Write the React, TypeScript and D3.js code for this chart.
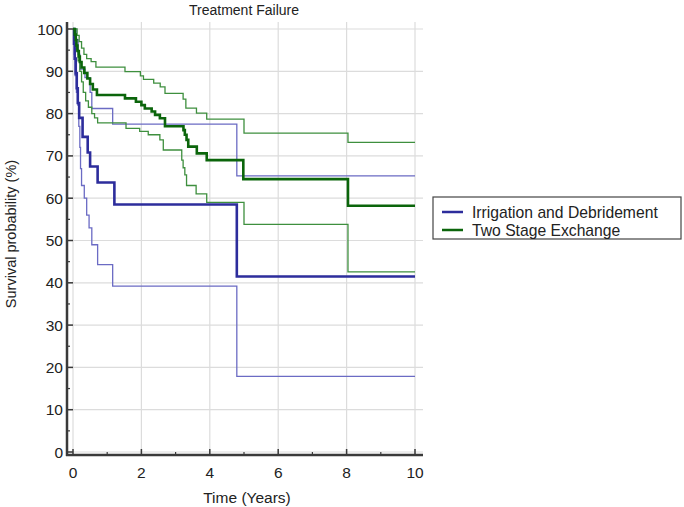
import React from "react";
import * as d3 from "d3";

const title = "Treatment Failure";
const xLabel = "Time (Years)";
const yLabel = "Survival probability (%)";
const seriesNames = ["Irrigation and Debridement", "Two Stage Exchange"];
const xTicks = [0, 2, 4, 6, 8, 10];
const xMinorTicks = [1, 3, 5, 7, 9];
const yTicks = [0, 10, 20, 30, 40, 50, 60, 70, 80, 90, 100];
const yMinorTicks = [5, 15, 25, 35, 45, 55, 65, 75, 85, 95];

// Irrigation and Debridement: [time, survival]
const idTime = [0, 0.03, 0.05, 0.08, 0.11, 0.14, 0.18, 0.28, 0.43, 0.5, 0.72, 1.21, 4.79];
const idSurv = [100, 96.5, 93, 89.5, 86, 82.5, 79, 74.5, 70.8, 67.5, 63.7, 58.5, 41.5];
const idUpperTime = [0, 0.1, 0.15, 0.2, 0.35, 0.5, 0.55, 1.16, 4.79];
const idUpper = [100, 97.5, 94, 90.5, 88.5, 85, 81.2, 77.5, 65.3];
const idLowerTime = [0, 0.04, 0.06, 0.1, 0.14, 0.17, 0.2, 0.22, 0.25, 0.33, 0.4, 0.47, 0.55, 0.72, 1.16, 4.79];
const idLower = [100, 94, 89, 85, 82, 77, 72, 67, 63, 60, 56, 53, 49, 44.3, 39.2, 17.9];

// Two Stage Exchange
const tsTime = [0, 0.05, 0.08, 0.1, 0.13, 0.17, 0.2, 0.25, 0.33, 0.42, 0.5, 0.58, 0.7, 1.52, 1.84, 2.0, 2.1, 2.3, 2.4, 2.54, 2.69, 3.23, 3.27, 3.32, 3.37, 3.62, 3.91, 4.98, 8.04];
const tsSurv = [100, 98.7, 97.4, 96.1, 94.8, 93.5, 92.2, 90.9, 89.6, 88.3, 87, 85.7, 84.4, 83.6, 82.8, 82.0, 81.2, 80.5, 79.7, 78.9, 77.0, 76.1, 75.0, 73.8, 72.2, 70.6, 69.0, 64.5, 58.2];
const tsUpperTime = [0, 0.12, 0.18, 0.25, 0.32, 0.4, 0.53, 0.67, 1.52, 1.97, 2.06, 2.36, 2.55, 2.69, 3.22, 3.3, 3.61, 3.91, 5.0, 8.04];
const tsUpper = [100, 98.5, 97, 95.5, 94, 93, 92.3, 91, 89.9, 88.9, 88.1, 87.2, 86.3, 84.8, 83.4, 81.3, 80.1, 78.7, 75.4, 73.2];
const tsLowerTime = [0, 0.05, 0.1, 0.15, 0.2, 0.25, 0.3, 0.37, 0.45, 0.55, 0.63, 0.72, 1.55, 1.95, 2.2, 2.54, 2.64, 3.18, 3.22, 3.27, 3.32, 3.6, 3.91, 5.0, 8.04];
const tsLower = [100, 97.5, 95, 92.5, 90, 87.5, 85, 83, 81.5, 80, 79, 77.8, 76.5, 75.8, 75.0, 73.8, 71.4, 69.0, 67.2, 65.5, 63.0, 61.0, 59.0, 53.8, 42.6];

const W = 684;
const H = 507;
const xMax = 10;

export default function App() {
  const x = d3.scaleLinear().domain([0, 10]).range([73, 415]);
  const y = d3.scaleLinear().domain([0, 100]).range([452, 29]);
  const line = d3
    .line<[number, number]>()
    .x((d) => x(d[0]))
    .y((d) => y(d[1]))
    .curve(d3.curveStepAfter);
  const mk = (t: number[], s: number[]): [number, number][] => {
    const pts = t.map((tt, i) => [tt, s[i]] as [number, number]);
    pts.push([xMax, s[s.length - 1]]);
    return pts;
  };
  const blue = "#2d2d9c";
  const blueThin = "#6b6bc4";
  const green = "#0b650b";
  const greenThin = "#3e8f3e";
  const font = "'Liberation Sans', Arial, sans-serif";
  const axisX = 67;
  const axisY = 455;
  const top = 22;
  const right = 423;
  const grid = "#dcdcdc";
  const axisColor = "#3a3a3a";

  return (
    <svg width={W} height={H} style={{ position: "absolute", left: 0, top: 0, background: "#fff" }} fontFamily={font}>
      <rect x={0} y={0} width={W} height={H} fill="#fff" />
      {/* gridlines */}
      {yTicks.map((v) => (
        <line key={"gy" + v} x1={axisX} x2={right} y1={y(v)} y2={y(v)} stroke={grid} strokeWidth={1.2} />
      ))}
      {xTicks.map((v) => (
        <line key={"gx" + v} x1={x(v)} x2={x(v)} y1={top} y2={axisY} stroke={grid} strokeWidth={1.2} />
      ))}
      {/* CI lines */}
      <path d={line(mk(idUpperTime, idUpper)) || ""} fill="none" stroke={blueThin} strokeWidth={1.3} />
      <path d={line(mk(idLowerTime, idLower)) || ""} fill="none" stroke={blueThin} strokeWidth={1.3} />
      <path d={line(mk(tsUpperTime, tsUpper)) || ""} fill="none" stroke={greenThin} strokeWidth={1.3} />
      <path d={line(mk(tsLowerTime, tsLower)) || ""} fill="none" stroke={greenThin} strokeWidth={1.3} />
      {/* main lines */}
      <path d={line(mk(idTime, idSurv)) || ""} fill="none" stroke={blue} strokeWidth={2.6} />
      <path d={line(mk(tsTime, tsSurv)) || ""} fill="none" stroke={green} strokeWidth={2.6} />
      {/* axes */}
      <line x1={axisX} x2={axisX} y1={top} y2={axisY + 1} stroke={axisColor} strokeWidth={2.5} />
      <line x1={axisX - 1} x2={right} y1={axisY} y2={axisY} stroke={axisColor} strokeWidth={2.5} />
      {yTicks.map((v) => (
        <g key={"yt" + v}>
          <line x1={axisX} x2={axisX + 6} y1={y(v)} y2={y(v)} stroke={axisColor} strokeWidth={1.5} />
          <text x={axisX - 4} y={y(v) + 5.5} fontSize={15.5} textAnchor="end" fill="#222">
            {v}
          </text>
        </g>
      ))}
      {yMinorTicks.map((v) => (
        <line key={"ym" + v} x1={axisX} x2={axisX + 3} y1={y(v)} y2={y(v)} stroke={axisColor} strokeWidth={1.2} />
      ))}
      {xTicks.map((v) => (
        <g key={"xt" + v}>
          <line x1={x(v)} x2={x(v)} y1={axisY} y2={axisY - 6} stroke={axisColor} strokeWidth={1.5} />
          <text x={x(v)} y={478} fontSize={15.5} textAnchor="middle" fill="#222">
            {v}
          </text>
        </g>
      ))}
      {xMinorTicks.map((v) => (
        <line key={"xm" + v} x1={x(v)} x2={x(v)} y1={axisY} y2={axisY - 3} stroke={axisColor} strokeWidth={1.2} />
      ))}
      {/* labels */}
      <text x={244} y={15} fontSize={14} textAnchor="middle" fill="#222">
        {title}
      </text>
      <text x={247} y={503} fontSize={15.5} textAnchor="middle" fill="#222">
        {xLabel}
      </text>
      <text transform={`translate(16,234) rotate(-90)`} fontSize={14.5} textAnchor="middle" fill="#222">
        {yLabel}
      </text>
      {/* legend */}
      <rect x={433} y={197} width={248} height={42} fill="#fff" stroke="#444" strokeWidth={1.2} />
      {seriesNames.map((n, i) => (
        <g key={n}>
          <line x1={442} x2={463} y1={212 + i * 18} y2={212 + i * 18} stroke={i === 0 ? blue : green} strokeWidth={2.5} />
          <text x={472} y={217.5 + i * 18} fontSize={15.7} fill="#222">
            {n}
          </text>
        </g>
      ))}
    </svg>
  );
}
